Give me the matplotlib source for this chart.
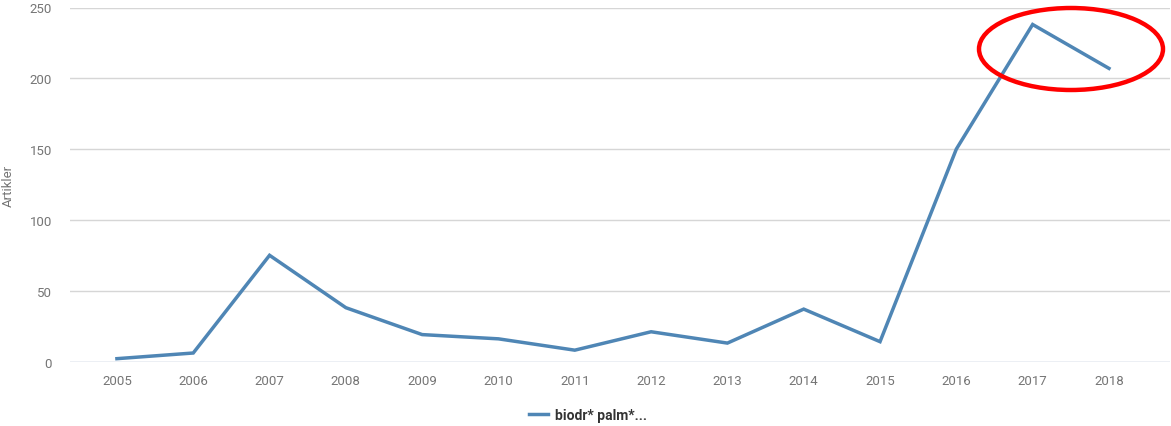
import matplotlib
matplotlib.use("Agg")
import matplotlib.pyplot as plt
from matplotlib.patches import Ellipse

years = [2005, 2006, 2007, 2008, 2009, 2010, 2011, 2012, 2013, 2014, 2015, 2016, 2017, 2018]
articles = [2, 6, 75, 38, 19, 16, 8, 21, 13, 37, 14, 150, 238, 207]
yticks = [0, 50, 100, 150, 200, 250]
series_name = "biodr* palm*..."
ylabel = "Artikler"

plt.rcParams['font.family'] = ['Roboto', 'DejaVu Sans']

fig = plt.figure(figsize=(11.71, 4.27), dpi=100)
ax = fig.add_axes([70/1171, 1-362.5/427, 1100/1171, (362.5-8.5)/427])

line, = ax.plot(years, articles, color='#4f86b5', lw=2.5, solid_joinstyle='miter', label=series_name, zorder=3)

ax.set_xlim(2005-0.615, 2018+0.8)
ax.set_ylim(0, 250)
ax.set_yticks(yticks)
ax.set_xticks(years)
ax.set_xticklabels([str(y) for y in years])
for s in ax.spines.values():
    s.set_visible(False)
ax.grid(axis='y', color='#d6d6d6', lw=1)
ax.axhline(0, color='#c3d3ef', lw=1, zorder=2)
ax.tick_params(axis='both', length=0, labelsize=9.5, colors='#757575')
ax.tick_params(axis='y', pad=13)
ax.tick_params(axis='x', pad=9)
ax.set_ylabel(ylabel, color='#757575', fontsize=9.5)
ax.yaxis.set_label_coords((15-70)/1100, 0.5)

fig.legend(handles=[line], loc='center', bbox_to_anchor=(588/1171, 1-416/427),
           frameon=False, handlelength=1.4, handletextpad=0.5,
           prop={'weight': 'bold', 'size': 10}, labelcolor='#333333')

ell = Ellipse((1071/1171, 1-50/427), 184/1171, 82/427, transform=fig.transFigure,
              fill=False, edgecolor='#ff0000', lw=3.2, zorder=5)
fig.patches.append(ell)

fig.savefig('out.png', dpi=100)
